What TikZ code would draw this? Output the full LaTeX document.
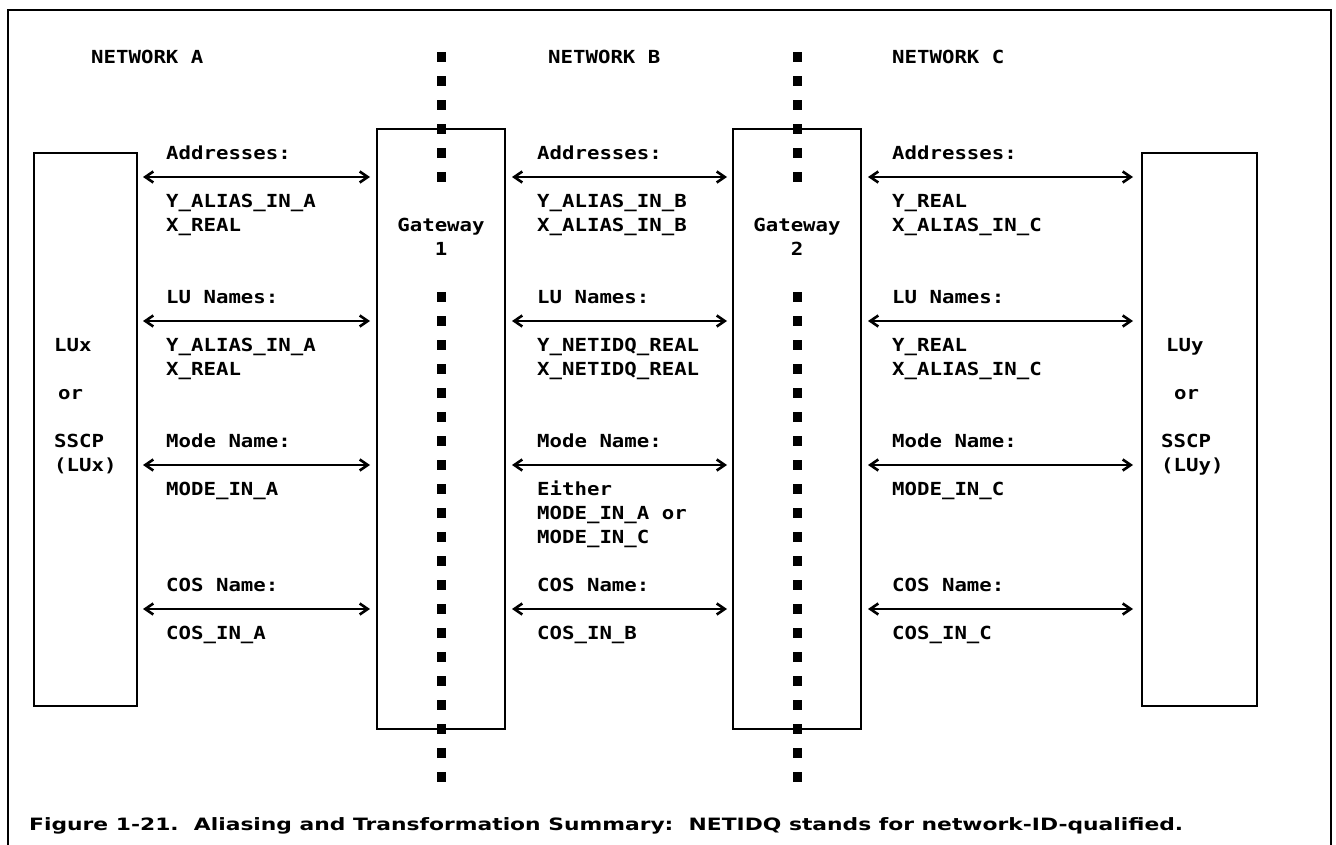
\documentclass[tikz,border=0pt]{standalone}
\usepackage{fontspec}
\usepackage{graphicx}
\usetikzlibrary{arrows.meta}
\newfontfamily\monofont[FakeStretch=1.15]{DejaVu Sans Mono}
\newfontfamily\capfont{DejaVu Sans}
\tikzset{
  txt/.style={anchor=base west, inner sep=0pt, font=\monofont\bfseries\fontsize{18}{18}\selectfont},
  ctxt/.style={anchor=base, inner sep=0pt, font=\monofont\bfseries\fontsize{18}{18}\selectfont},
  box/.style={draw, line width=2.4pt, inner sep=0pt},
  dotsq/.style={fill=black, draw=none, minimum width=8.5pt, minimum height=9.5pt, inner sep=0pt},
  biarrow/.style={line width=1.5pt,
    {Straight Barb[length=8pt,width=11pt,line width=2.6pt]}-{Straight Barb[length=8pt,width=11pt,line width=2.6pt]}},
  frame/.style={line width=2.6pt}
}
\begin{document}
\begin{tikzpicture}[x=1pt,y=-1pt]
\useasboundingbox (0,0) rectangle (1336,845);
% outer frame (open at bottom)
\coordinate (f1) at (8,845);
\coordinate (f2) at (8,10);
\coordinate (f3) at (1331,10);
\coordinate (f4) at (1331,845);
\draw[frame] (f1) -- (f2) -- (f3) -- (f4);

% boxes
\node[box, minimum width=103pt, minimum height=553pt] (lux) at (85.5,429.5) {};
\node[box, minimum width=115pt, minimum height=553pt] (luy) at (1199.5,429.5) {};
\node[box, minimum width=128pt, minimum height=600pt] (gw1) at (441,429) {};
\node[box, minimum width=128pt, minimum height=600pt] (gw2) at (797,429) {};

% dotted separators
\foreach \k in {0,...,5,10,11,...,30}{
  \node[dotsq] (da\k) at (441.5,{57+24*\k}) {};
  \node[dotsq] (db\k) at (797.5,{57+24*\k}) {};
}

% gateway labels
\node[ctxt] (g1a) at (441,231.5) {Gateway};
\node[ctxt] (g1b) at (441,255.5) {1};
\node[ctxt] (g2a) at (797,231.5) {Gateway};
\node[ctxt] (g2b) at (797,255.5) {2};

% network titles
\node[txt] (na) at (91,63.5) {NETWORK A};
\node[txt] (nb) at (548,63.5) {NETWORK B};
\node[txt] (nc) at (892,63.5) {NETWORK C};

% LUx / LUy labels
\node[txt] (lx1) at (54,351.5) {LUx};
\node[txt] (lx2) at (58,399.5) {or};
\node[txt] (lx3) at (54,447.5) {SSCP};
\node[txt] (lx4) at (54,471.5) {(LUx)};
\node[txt] (ly1) at (1166,351.5) {LUy};
\node[txt] (ly2) at (1174,399.5) {or};
\node[txt] (ly3) at (1161,447.5) {SSCP};
\node[txt] (ly4) at (1161,471.5) {(LUy)};

% column A
\node[txt] (a1) at (166,159.5) {Addresses:};
\node[txt] (a2) at (166,207.5) {Y\_ALIAS\_IN\_A};
\node[txt] (a3) at (166,231.5) {X\_REAL};
\node[txt] (a4) at (166,303.5) {LU Names:};
\node[txt] (a5) at (166,351.5) {Y\_ALIAS\_IN\_A};
\node[txt] (a6) at (166,375.5) {X\_REAL};
\node[txt] (a7) at (166,447.5) {Mode Name:};
\node[txt] (a8) at (166,495.5) {MODE\_IN\_A};
\node[txt] (a9) at (166,591.5) {COS Name:};
\node[txt] (a10) at (166,639.5) {COS\_IN\_A};

% column B
\node[txt] (b1) at (537,159.5) {Addresses:};
\node[txt] (b2) at (537,207.5) {Y\_ALIAS\_IN\_B};
\node[txt] (b3) at (537,231.5) {X\_ALIAS\_IN\_B};
\node[txt] (b4) at (537,303.5) {LU Names:};
\node[txt] (b5) at (537,351.5) {Y\_NETIDQ\_REAL};
\node[txt] (b6) at (537,375.5) {X\_NETIDQ\_REAL};
\node[txt] (b7) at (537,447.5) {Mode Name:};
\node[txt] (b8) at (537,495.5) {Either};
\node[txt] (b9) at (537,519.5) {MODE\_IN\_A or};
\node[txt] (b10) at (537,543.5) {MODE\_IN\_C};
\node[txt] (b11) at (537,591.5) {COS Name:};
\node[txt] (b12) at (537,639.5) {COS\_IN\_B};

% column C
\node[txt] (c1) at (892,159.5) {Addresses:};
\node[txt] (c2) at (892,207.5) {Y\_REAL};
\node[txt] (c3) at (892,231.5) {X\_ALIAS\_IN\_C};
\node[txt] (c4) at (892,303.5) {LU Names:};
\node[txt] (c5) at (892,351.5) {Y\_REAL};
\node[txt] (c6) at (892,375.5) {X\_ALIAS\_IN\_C};
\node[txt] (c7) at (892,447.5) {Mode Name:};
\node[txt] (c8) at (892,495.5) {MODE\_IN\_C};
\node[txt] (c9) at (892,591.5) {COS Name:};
\node[txt] (c10) at (892,639.5) {COS\_IN\_C};

% arrows
\foreach \r/\y in {1/177,2/321,3/465,4/609}{
  \coordinate (pa\r) at (143,\y);
  \coordinate (qa\r) at (370,\y);
  \coordinate (pb\r) at (512,\y);
  \coordinate (qb\r) at (727,\y);
  \coordinate (pc\r) at (868,\y);
  \coordinate (qc\r) at (1133,\y);
  \draw[biarrow] (pa\r) -- (qa\r);
  \draw[biarrow] (pb\r) -- (qb\r);
  \draw[biarrow] (pc\r) -- (qc\r);
}

% caption
\node[anchor=base west, inner sep=0pt, font=\capfont\bfseries\fontsize{17}{17}\selectfont] (cap) at (29,830)
  {\resizebox{1154pt}{\height}{Figure 1-21.\ \ Aliasing and Transformation Summary:\ \ NETIDQ stands for network-ID-qualified.}};
\end{tikzpicture}
\end{document}
